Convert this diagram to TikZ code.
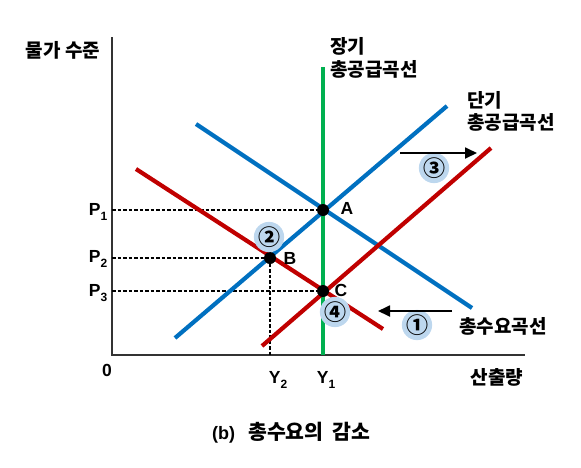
\documentclass[tikz,border=0pt]{standalone}
\usepackage{fontspec}
\setmainfont{Noto Sans CJK KR}
\newfontfamily\lat{Liberation Sans}
\usetikzlibrary{arrows.meta}
\definecolor{cblue}{RGB}{0,112,192}
\definecolor{cred}{RGB}{192,0,0}
\definecolor{cgreen}{RGB}{0,176,80}
\definecolor{cbadge}{RGB}{189,215,238}
\newcommand{\lsub}[2]{#1\raisebox{-0.28em}{\fontsize{12}{12}\selectfont #2}}
\tikzset{
  curve/.style={line width=4.2pt},
  axis/.style={line width=1.8pt,draw=black!80},
  guide/.style={line width=1.3pt,dash pattern=on 3.5pt off 2pt},
  dot/.style={circle,fill=black,inner sep=0pt,minimum size=12pt},
  klbl/.style={font=\fontsize{19}{23}\selectfont\bfseries,inner sep=0pt},
  llbl/.style={font=\fontsize{17.5}{20}\selectfont\lat\bfseries,inner sep=0pt},
  badge/.style={circle,fill=cbadge,inner sep=0pt,minimum size=27pt,font=\fontsize{22}{24}\selectfont\bfseries},
  shiftarrow/.style={line width=1.8pt,-{Triangle[length=12pt,width=11pt]}}
}
\begin{document}
\begin{tikzpicture}[x=1pt,y=-1pt]
\useasboundingbox (0,0) rectangle (581,467);
% axes
\coordinate (O) at (112,355);
\coordinate (ytop) at (112,37);
\coordinate (xend) at (525,355);
\draw[axis] (ytop) -- (O) -- (xend);
% long-run AS
\coordinate (lr1) at (323,67);
\coordinate (lr2) at (323,355);
\draw[curve,cgreen] (lr1) -- (lr2);
% points
\coordinate (A) at (323,210);
\coordinate (B) at (270,258);
\coordinate (C) at (323,291);
% guide lines
\coordinate (p1) at (112,210);
\coordinate (p2) at (112,258);
\coordinate (p3) at (112,291);
\coordinate (y2) at (270,355);
\draw[guide] (p1) -- (A);
\draw[guide] (p2) -- (B);
\draw[guide] (p3) -- (C);
\draw[guide] (B) -- (y2);
% curves
\coordinate (ad1s) at (196,124); \coordinate (ad1e) at (472,308);
\coordinate (ad2s) at (136,169); \coordinate (ad2e) at (383,329);
\coordinate (as1s) at (175,338); \coordinate (as1e) at (447,106);
\coordinate (as2s) at (262,346); \coordinate (as2e) at (491,148);
\draw[curve,cblue] (ad1s) -- (ad1e);
\draw[curve,cblue] (as1s) -- (as1e);
\draw[curve,cred] (ad2s) -- (ad2e);
\draw[curve,cred] (as2s) -- (as2e);
% points on top
\node[dot] (dA) at (A) {};
\node[dot] (dB) at (B) {};
\node[dot] (dC) at (C) {};
% labels of points
\node[llbl] (lA) at (347,208) {A};
\node[llbl] (lB) at (290,258) {B};
\node[llbl] (lC) at (341,290) {C};
\node[llbl] (lP1) at (98,212) {\lsub{P}{1}};
\node[llbl] (lP2) at (98,259) {\lsub{P}{2}};
\node[llbl] (lP3) at (98,293) {\lsub{P}{3}};
\node[llbl] (l0) at (107,370) {0};
\node[llbl] (lY2) at (278,380) {\lsub{Y}{2}};
\node[llbl] (lY1) at (326,380) {\lsub{Y}{1}};
% badges
\node[badge] (b3) at (434,168) {③};
\node[badge] (b2) at (269,237) {②};
\node[badge] (b4) at (335,312) {④};
\node[badge] (b1) at (417,325) {①};
% shift arrows
\coordinate (s3a) at (400,153); \coordinate (s3b) at (477,153);
\coordinate (s1a) at (452,311); \coordinate (s1b) at (378,311);
\draw[shiftarrow] (s3a) -- (s3b);
\draw[shiftarrow] (s1a) -- (s1b);
% text labels
\node[klbl,anchor=west] (t1) at (330,46) {장기};
\node[klbl,anchor=west] (t2) at (330,69) {총공급곡선};
\node[klbl,anchor=west] (t3) at (467,100) {단기};
\node[klbl,anchor=west] (t4) at (467,122) {총공급곡선};
\node[klbl,anchor=west] (t5) at (459,326) {총수요곡선};
\node[klbl] (t6) at (63,50) {물가 수준};
\node[klbl] (t7) at (497,377) {산출량};
\node[klbl,anchor=west,font=\fontsize{20.5}{24}\selectfont\bfseries] (t8) at (212,433) {{\fontsize{18}{20}\selectfont\lat(b)}\hspace{13pt}총수요의\hspace{9pt}감소};
\end{tikzpicture}
\end{document}
